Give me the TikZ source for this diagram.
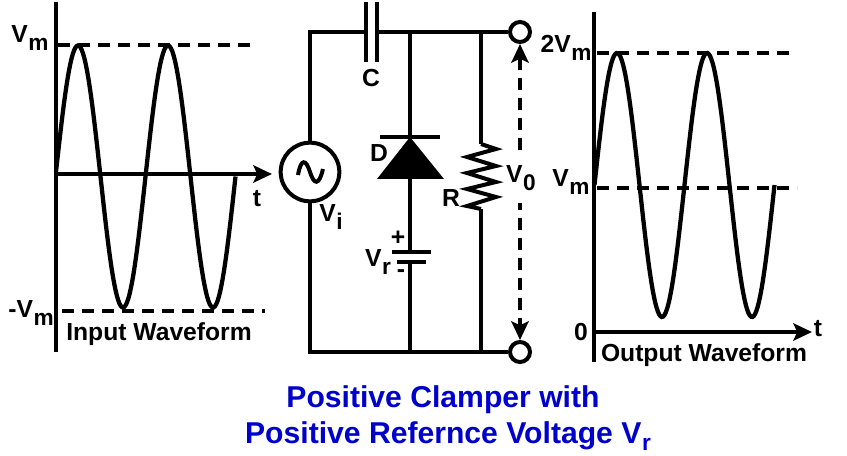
\documentclass[tikz,border=0pt]{standalone}
\usepackage{fontspec}
\setmainfont{Liberation Sans}
\usepackage{xcolor}
\usetikzlibrary{positioning,arrows.meta,calc}
\definecolor{titleblue}{HTML}{0000CC}
\newcommand{\Vsub}[2]{#1\kern0.02em\raisebox{-0.3em}{\fontsize{17}{20}\selectfont #2}}
\newcommand{\Vsubt}[2]{#1\kern0.02em\raisebox{-0.24em}{\fontsize{17}{18}\selectfont #2}}

\begin{document}
\begin{tikzpicture}[
  x=0.75pt, y=-0.75pt,
  >={Stealth[length=14pt,width=13pt,inset=3pt]},
  every node/.style={font=\fontsize{18.5}{22}\selectfont\bfseries, inner sep=0pt},
  lbl/.style={anchor=base},
  wire/.style={line width=3pt},
  axisline/.style={line width=3pt},
  wave/.style={line width=3.2pt},
  guide/.style={line width=2.8pt, dash pattern=on 9pt off 6pt},
  terminal/.style={draw, circle, line width=3pt, minimum size=15pt, fill=white},
  source/.style={draw, circle, line width=3pt, minimum size=44pt},
  titletext/.style={anchor=base, text=titleblue, font=\fontsize{22.6}{27}\selectfont\bfseries}
]
\useasboundingbox (0,0) rectangle (847,456);

% --- Input waveform ---
\coordinate (intop) at (56,2);
\coordinate (inbot) at (56,352);
\coordinate (inorg) at (56,174);
\coordinate (inend) at (272,174);
\draw[axisline] (intop) -- (inbot);
\draw[axisline,->] (inorg) -- (inend);
\draw[wave] plot[domain=56:235.5,samples=140] (\x,{176.5-131*sin((\x-55.5)*4)});
\draw[guide] (58,45) -- (255,45);
\draw[guide] (62,311) -- (265,311);
\node[lbl] (vmtop) at (30,43) {\Vsub{V}{m}};
\node[lbl] (vmbot) at (31,318) {-\Vsub{V}{m}};
\node[lbl] (tin) at (257,207) {t};
\node[lbl] (inlabel) at (159,340) {Input Waveform};

% --- Circuit: source and capacitor ---
\node[source] (vs) at (310,172) {};
\draw[line width=3pt] (298,175) .. controls (301,158) and (306,159) .. (310,172)
  .. controls (314,185) and (319,186) .. (323,169);
\coordinate (tl) at (310,32);
\coordinate (bl) at (310,352);
\coordinate (capa) at (366,32);
\coordinate (capb) at (377,32);
\coordinate (jd) at (410,32);
\coordinate (jr) at (481,32);
\coordinate (jdb) at (410,352);
\coordinate (jrb) at (481,352);
\node[terminal] (outa) at (520,32) {};
\node[terminal] (outb) at (520,352) {};
\draw[wire,line join=miter] (vs) -- (tl) -- (capa);
\draw[wire] (vs) -- (bl) -- (outb);
\draw[wire] (capb) -- (outa);
\draw[wire] (366,2) -- (366,62);
\draw[wire] (377,2) -- (377,62);

% --- Diode and reference battery ---
\coordinate (dk) at (410,137);
\coordinate (da) at (410,178);
\coordinate (ba) at (410,252);
\coordinate (bb) at (410,262);
\draw[wire] (jd) -- (dk);
\draw[wire] (380,137) -- (440,137);
\fill (dk) -- (377,179) -- (444,179) -- cycle;
\draw[wire] (da) -- (ba);
\draw[wire] (392,252) -- (431,252);
\draw[wire] (397,262) -- (426,262);
\draw[wire] (bb) -- (jdb);

% --- Load resistor ---
\coordinate (ra) at (481,144);
\coordinate (rb) at (481,209);
\draw[wire] (jr) -- (ra);
\draw[wire,line join=miter] (ra) -- (496,149) -- (467,157) -- (496,166) -- (467,173) -- (496,182) -- (467,189) -- (496,197) -- (467,206) -- (rb);
\draw[wire] (rb) -- (jrb);

% --- Output voltage ---
\draw[guide,<->] (outa) -- (outb);

% --- Circuit labels ---
\node[lbl] (clabel) at (371,87) {C};
\node[lbl] (dlabel) at (379,162) {D};
\node[lbl] (rlabel) at (451,207) {R};
\node[lbl] (vilabel) at (331,222) {\Vsub{V}{i}};
\node[lbl] (vrlabel) at (378,267) {\Vsub{V}{r}};
\node (plus) at (398,238) {+};
\node (minus) at (401,274) {-};
\node[lbl, fill=white, inner ysep=9pt] (v0label) at (521,183) {\Vsub{V}{0}};

% --- Output waveform ---
\coordinate (outtop) at (594,12);
\coordinate (outbot) at (594,362);
\coordinate (outorg) at (594,332);
\coordinate (outend) at (812,332);
\draw[axisline] (outtop) -- (outbot);
\draw[axisline,->] (outorg) -- (outend);
\draw[wave] plot[domain=594.5:774.5,samples=140] (\x,{185-132*sin((\x-594.5)*4)});
\draw[guide] (597,53) -- (793,53);
\draw[guide] (597,188) -- (797,188);
\node[lbl] (twovm) at (566,53) {2\Vsub{V}{m}};
\node[lbl] (vmmid) at (571,187) {\Vsub{V}{m}};
\node[lbl] (zero) at (581,340) {0};
\node[lbl] (tout) at (818,337) {t};
\node[lbl] (outlabel) at (704,361) {Output Waveform};

% --- Title ---
\node[titletext] (titlea) at (443,407) {Positive Clamper with};
\node[titletext] (titleb) at (448,443) {Positive Refernce Voltage \Vsubt{V}{r}};

\end{tikzpicture}
\end{document}
